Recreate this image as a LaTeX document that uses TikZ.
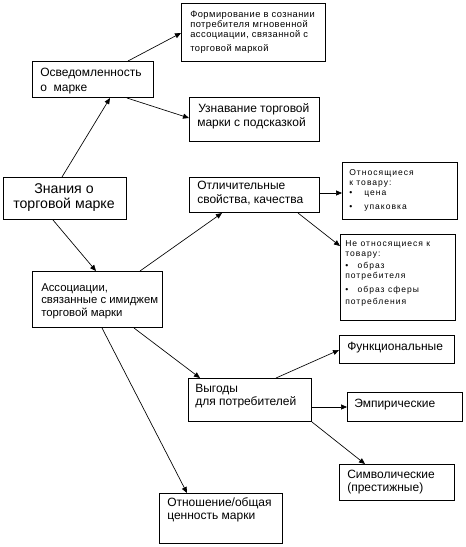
\documentclass[tikz,border=0pt]{standalone}
\usepackage{fontspec}
\setmainfont{Liberation Sans}
\newfontfamily\smallf[LetterSpace=5]{Liberation Sans}
\newfontfamily\tinyf[LetterSpace=12]{Liberation Sans}
\usetikzlibrary{calc,arrows.meta}
\newcommand\Lh[1]{\hbox{#1}}
\begin{document}
\begin{tikzpicture}[x=0.75pt,y=-0.75pt,
  box/.style={draw,line width=0.75pt,inner sep=0pt,anchor=north west},
  txt/.style={inner sep=0pt,anchor=base west},
  big/.style={font=\fontsize{10.6}{11.25}\selectfont},
  med/.style={font=\fontsize{9}{10.5}\selectfont},
  sml/.style={font=\smallf\fontsize{7}{7.5}\selectfont},
  tny/.style={font=\tinyf\fontsize{6.4}{7.5}\selectfont},
  arr/.style={line width=0.5pt,-{Triangle[length=4.5pt,width=3.8pt]}}]
\useasboundingbox (0,0) rectangle (466,547);
\fill[white] (0,0) rectangle (466,547);
% boxes
\node[box,minimum width=144*0.75pt,minimum height=58*0.75pt] (b1) at (181,3) {};
\node[box,minimum width=121*0.75pt,minimum height=36*0.75pt] (b2) at (32,61) {};
\node[box,minimum width=130*0.75pt,minimum height=44*0.75pt] (b3) at (189,97) {};
\node[box,minimum width=123*0.75pt,minimum height=42*0.75pt] (b4) at (3,177) {};
\node[box,minimum width=130*0.75pt,minimum height=35*0.75pt] (b5) at (189,177) {};
\node[box,minimum width=115*0.75pt,minimum height=57*0.75pt] (b6) at (342,162) {};
\node[box,minimum width=115*0.75pt,minimum height=86*0.75pt] (b7) at (340,234) {};
\node[box,minimum width=130*0.75pt,minimum height=56*0.75pt] (b8) at (32,271) {};
\node[box,minimum width=115*0.75pt,minimum height=28*0.75pt] (b9) at (339,335) {};
\node[box,minimum width=123*0.75pt,minimum height=43*0.75pt] (b10) at (188,378) {};
\node[box,minimum width=115*0.75pt,minimum height=29*0.75pt] (b11) at (347,392) {};
\node[box,minimum width=115*0.75pt,minimum height=36*0.75pt] (b12) at (339,464) {};
\node[box,minimum width=123*0.75pt,minimum height=50*0.75pt] (b13) at (159,493) {};
% texts
\node[txt,sml] (t1) at (190,17) {\vtop{\baselineskip=7.5pt
  \Lh{Формирование в сознании}\Lh{потребителя мгновенной}\Lh{ассоциации, связанной с}\vskip3pt\Lh{торговой маркой}}};
\node[txt,med] (t2) at (40,76) {\vtop{\baselineskip=11.25pt
  \Lh{Осведомленность}\Lh{о\ \ марке}}};
\node[txt,med] (t3) at (197,112) {\vtop{\baselineskip=10.5pt
  \Lh{\kern0.75pt Узнавание торговой}\Lh{марки с подсказкой}}};
\node[txt,big,anchor=base] (t4) at (64,193) {\vtop{\baselineskip=11.25pt
  \hbox to 90pt{\hss Знания о\hss}\hbox to 90pt{\hss торговой марке\hss}}};
\node[txt,med] (t5) at (197,189) {\vtop{\baselineskip=10.5pt
  \Lh{Отличительные}\Lh{свойства, качества}}};
\node[txt,tny] (t6) at (349,175) {\vtop{\baselineskip=7.5pt
  \Lh{Относящиеся}\Lh{к товару:}\Lh{\textbullet\kern9pt цена}\vskip3.5pt\Lh{\textbullet\kern9pt упаковка}}};
\node[txt,tny] (t7) at (345,246) {\vtop{\baselineskip=7.5pt
  \Lh{Не относящиеся к}\Lh{товару:}\vskip1.5pt\Lh{\textbullet\kern7pt образ}\Lh{потребителя}\vskip3pt\Lh{\textbullet\kern7pt образ сферы}\vskip2pt\Lh{потребления}}};
\node[txt,med,font=\fontsize{8.5}{10}\selectfont] (t8) at (41,291) {\vtop{\baselineskip=9.5pt
  \Lh{Ассоциации,}\Lh{связанные с имиджем}\Lh{торговой марки}}};
\node[txt,med] (t9) at (347,350) {Функциональные};
\node[txt,med] (t10) at (195,392) {\vtop{\baselineskip=9.75pt
  \Lh{Выгоды}\Lh{для потребителей}}};
\node[txt,med] (t11) at (354,407) {Эмпирические};
\node[txt,med] (t12) at (347,478) {\vtop{\baselineskip=10pt
  \Lh{Символические}\Lh{(престижные)}}};
\node[txt,med] (t13) at (167,506) {\vtop{\baselineskip=10pt
  \Lh{Отношение/общая}\Lh{ценность марки}}};
% arrows
\draw[arr] ($(b4.north west)+(59,0)$) -- ($(b2.south west)+(78,0)$);
\draw[arr] ($(b2.north west)+(96,0)$) -- ($(b1.north west)+(0,30)$);
\draw[arr] ($(b2.south west)+(95,0)$) -- ($(b3.north west)+(0,21)$);
\draw[arr] ($(b4.south west)+(50,0)$) -- ($(b8.north west)+(64,0)$);
\draw[arr] ($(b8.north west)+(108,0)$) -- ($(b5.south west)+(33,0)$);
\draw[arr] ($(b5.north east)+(0,16)$) -- ($(b6.north west)+(0,31)$);
\draw[arr] ($(b5.south west)+(109,0)$) -- ($(b7.north west)+(0,12)$);
\draw[arr] ($(b8.south west)+(102,0)$) -- ($(b10.north west)+(12,0)$);
\draw[arr] ($(b8.south west)+(70,0)$) -- ($(b13.north west)+(28,0)$);
\draw[arr] ($(b10.north west)+(88,0)$) -- ($(b9.north west)+(0,15)$);
\draw[arr] ($(b10.north east)+(0,29)$) -- ($(b11.north west)+(0,15)$);
\draw[arr] (b10.south east) -- ($(b12.north west)+(26,0)$);
\end{tikzpicture}
\end{document}
